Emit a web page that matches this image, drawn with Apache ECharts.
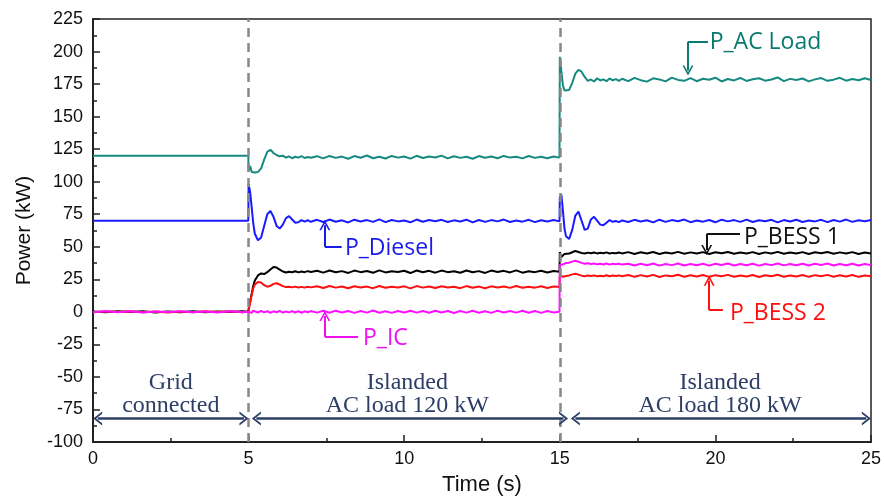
<!DOCTYPE html>
<html>
<head>
<meta charset="utf-8">
<script src="https://cdn.jsdelivr.net/npm/echarts@6/dist/echarts.min.js"></script>
<style>html,body{margin:0;padding:0;background:#fff}#c{width:884px;height:497px}</style>
</head>
<body>
<div id="c"></div>
<script>
// ---- data (time in s, power in kW) ----
const time = [
  0,0.4,0.8,1.2,1.6,2,2.4,2.8,3.2,3.6,4,4.4,4.8,
  4.99,
  5,5.05,5.1,5.15,
  5.2,5.3,5.4,5.5,5.6,5.7,5.8,5.9,6,6.1,6.2,6.3,6.4,6.5,6.6,6.7,6.8,6.9,7,
  7.2,7.4,7.6,7.8,8,8.2,8.4,8.6,8.8,9,9.2,9.4,9.6,9.8,10,10.2,10.4,10.6,10.8,11,11.2,11.4,11.6,11.8,12,12.2,12.4,12.6,12.8,13,13.2,13.4,13.6,13.8,14,14.2,14.4,14.6,14.8,
  14.99,
  15,15.05,15.1,15.15,
  15.2,15.3,15.4,15.5,15.6,15.7,15.8,15.9,16,16.1,16.2,16.3,16.4,16.5,16.6,16.7,16.8,16.9,17,
  17.2,17.4,17.6,17.8,18,18.2,18.4,18.6,18.8,19,19.2,19.4,19.6,19.8,20,20.2,20.4,20.6,20.8,21,21.2,21.4,21.6,21.8,22,22.2,22.4,22.6,22.8,23,23.2,23.4,23.6,23.8,24,24.2,24.4,24.6,24.8,25
];
const pAcLoad = [
  120,120,120,120,120,120,120,120,120,120,120,120,120,
  120,
  108,112,107.5,107,
  107,107.5,110,117,123,124.5,122,120.5,119.5,120,118.5,119.5,118,119.2,118.5,119.6,118.2,119,118.4,
  119.6,117.9,119.8,118.3,119.3,117.6,119.7,118.4,120.1,118.0,119.2,117.8,119.8,118.5,119.4,117.7,119.9,118.2,119.3,118.6,120.0,117.9,119.5,118.3,119.2,117.6,119.7,118.4,119.3,118.0,119.8,118.5,119.1,117.9,119.7,118.3,119.2,118.0,119.4,
  118.5,
  196,185,174,170,
  169,170.5,176,183,186,184.5,180.5,177.5,178.5,177,179.5,177.8,178.6,177.2,179.3,177.9,178.8,177.4,179.1,
  177.3,179.8,178.0,176.9,179.4,178.6,177.1,180.0,178.2,177.5,179.6,177.2,179.1,178.3,179.9,177.0,178.9,177.8,179.7,177.4,178.7,179.5,177.6,178.5,180.1,177.3,179.0,178.1,179.3,177.1,178.6,179.6,177.5,178.4,179.8,177.6,178.9,177.9,179.5,178.2
];
const pDiesel = [
  70,70,70,70,70,70,70,70,70,70,70,70,70,
  70,
  98,92,80,68,
  60,55,57,66,75,77.5,73,66,64,67,72,73.5,71,68.5,68.8,70.5,69.3,70.4,69.2,
  70.7,69.0,70.9,69.2,70.3,68.7,70.8,69.4,70.5,69.1,71.0,68.9,70.6,69.5,70.2,68.8,70.9,69.2,70.5,69.6,70.7,69.0,70.3,69.4,70.8,68.7,70.6,69.1,70.5,69.5,70.9,69.0,70.2,69.3,70.7,68.9,70.4,69.4,70.6,
  69.5,
  88,90,78,64,
  58,56,63,74,77,70,63,64,71,73,70,67,66.5,68.5,70.5,69.2,69.8,68.9,70.2,
  69.0,70.7,69.4,70.4,68.7,70.8,69.1,70.5,69.6,70.9,68.9,70.2,69.3,70.6,68.8,70.8,69.5,70.5,69.1,70.9,69.0,70.4,69.6,70.7,68.7,70.5,69.4,70.8,69.0,70.2,69.5,70.7,68.9,70.6,69.3,70.9,69.1,70.4,69.6,70.5
];
const pBess1 = [
  0.3,-0.4,0.5,-0.2,0.4,-0.5,0.2,-0.3,0.5,-0.4,0.3,-0.2,0.4,
  0,
  2,8,14,20,
  24,28,29.5,29,30.5,32.5,34.5,34,32.5,31,30.2,30.8,30.4,31.2,30.3,31.0,30.5,31.3,30.6,
  31.6,30.1,31.8,30.4,31.3,29.9,31.7,30.5,31.4,30.0,31.9,30.3,31.2,30.6,31.6,29.8,31.8,30.4,31.5,30.1,31.7,30.5,31.2,30.0,31.8,30.4,31.3,29.9,31.7,30.6,31.5,30.3,31.9,30.1,31.2,30.5,31.6,30.2,31.4,
  30.8,
  46,42,43,44.5,
  45,44.8,45.8,46.8,46,45.2,44.8,45.5,45.1,45.6,44.9,45.4,45.0,45.7,44.8,45.3,45.0,45.6,44.9,
  45.9,44.5,45.8,44.8,46.0,44.4,45.6,44.9,46.1,44.6,45.7,44.8,45.9,44.5,45.8,45.0,46.0,44.6,45.6,44.8,45.9,44.4,45.7,44.9,46.1,44.6,45.6,44.8,45.9,44.5,45.8,45.0,46.0,44.6,45.7,44.8,45.9,44.5,45.6,44.9
];
const pBess2 = [
  -0.3,0.4,-0.2,0.5,-0.4,0.3,-0.5,0.2,-0.3,0.4,-0.2,0.5,-0.3,
  0,
  1,7,13,18,
  21,23,22.5,20.5,19.3,20,21.5,22,21,19.8,19,19.3,18.8,19.4,18.7,19.2,18.6,19.3,18.8,
  19.6,18.3,19.8,18.6,19.5,18.1,19.7,18.7,19.4,18.2,19.9,18.5,19.3,18.7,19.6,18.0,19.8,18.6,19.5,18.3,19.7,18.7,19.3,18.2,19.8,18.5,19.4,18.1,19.6,18.7,19.5,18.4,19.9,18.5,19.3,18.6,19.6,18.3,19.4,
  19.0,
  28,27.5,27,27.3,
  27.6,28,28.8,29.2,28.6,27.8,27.4,27.9,27.5,28.0,27.3,27.8,27.4,28.1,27.3,27.9,27.5,28.0,27.4,
  28.3,26.9,28.2,27.1,28.4,26.8,28.0,27.3,28.5,27.0,28.1,27.2,28.3,26.9,28.2,27.4,28.4,27.0,28.0,27.2,28.3,26.8,28.1,27.3,28.5,27.0,28.0,27.2,28.3,26.9,28.2,27.4,28.4,27.0,28.1,27.2,28.3,26.9,28.0,27.3
];
const pIC = [
  -0.4,0.5,-0.3,0.4,-0.5,0.3,-0.2,0.5,-0.4,0.3,-0.5,0.4,-0.3,
  0,
  -1,1.5,-0.8,0.9,
  0.6,-0.5,0.8,-0.4,0.5,-0.7,0.4,-0.3,0.7,-0.6,0.3,-0.4,0.6,-0.5,0.5,-0.7,0.4,-0.3,0.6,
  -0.6,0.8,-0.7,0.9,-0.5,0.7,-0.8,0.6,-0.6,1.0,-0.7,0.5,-0.8,0.7,-0.5,0.9,-0.6,0.6,-0.7,0.8,-0.5,0.7,-0.9,0.6,-0.6,0.8,-0.7,0.5,-0.8,0.9,-0.5,0.7,-0.6,0.8,-0.7,0.6,-0.8,0.7,-0.5,
  0,
  36,37,36.5,37.2,
  37.5,37.8,38.6,39.2,38.5,37.6,36.9,37.3,36.7,37.2,36.5,37.0,36.4,37.1,36.3,36.9,36.5,37.0,36.3,
  37.0,35.6,36.9,35.8,37.1,35.5,36.7,35.9,37.2,35.6,36.8,35.8,37.0,35.5,36.9,36.0,37.1,35.6,36.7,35.8,37.0,35.5,36.8,35.9,37.2,35.7,36.7,35.8,37.0,35.6,36.9,36.0,37.1,35.6,36.8,35.8,37.0,35.6,36.7,35.9
];
const modeSwitchTimes = [5, 15];
const modeLabels = ['Grid\nconnected', 'Islanded\nAC load 120 kW', 'Islanded\nAC load 180 kW'];
const xTicks = [0, 5, 10, 15, 20, 25];
const yTicks = [-100, -75, -50, -25, 0, 25, 50, 75, 100, 125, 150, 175, 200, 225];

// ---- build ----
const zip = v => time.map((t, i) => [t, v[i]]);
const chev = 'path://M0,10 L5,0 L10,10 L8.4,10 L5,3.2 L1.6,10 Z';
const NAVY = '#2d3e66';
const annFont = '"Open Sans", "Noto Sans", sans-serif';

function callout(color, tip, corner, end, text, textPos) {
  return {
    markLine: {
      silent: true, animation: false,
      label: { show: false },
      lineStyle: { color: color, width: 2, type: 'solid' },
      emphasis: { disabled: true },
      data: [
        [{ coord: corner, symbol: 'none' }, { coord: tip, symbol: chev, symbolSize: [11, 10] }],
        [{ coord: corner, symbol: 'none' }, { coord: end, symbol: 'none' }]
      ]
    },
    markPoint: {
      silent: true, animation: false,
      data: [{
        coord: textPos, symbol: 'rect', symbolSize: 1, itemStyle: { color: 'rgba(0,0,0,0)' },
        label: { show: true, position: 'right', distance: 0, formatter: text, color: color, fontSize: 23, fontFamily: annFont }
      }]
    }
  };
}

function lineSeries(name, vals, color, extra) {
  return Object.assign({
    name: name, type: 'line', data: zip(vals), showSymbol: false, symbol: 'none',
    lineStyle: { color: color, width: 2 }, itemStyle: { color: color },
    silent: true, animation: false, z: 3
  }, extra || {});
}

const chart = echarts.init(document.getElementById('c'), null, { renderer: 'canvas' });
const option = {
  backgroundColor: '#fff',
  animation: false,
  grid: { left: 93, right: 13, top: 19, bottom: 55, containLabel: false, outerBoundsMode: 'none', show: true, borderColor: '#222', borderWidth: 1.5, backgroundColor: 'transparent' },
  xAxis: {
    type: 'value', min: xTicks[0], max: xTicks[xTicks.length - 1], interval: 5,
    name: 'Time (s)', nameLocation: 'middle', nameGap: 32,
    nameTextStyle: { fontSize: 22, color: '#111', fontFamily: '"Liberation Sans", Arial, sans-serif' },
    axisLine: { show: true, onZero: false, lineStyle: { color: '#222', width: 2 } },
    axisTick: { show: true, inside: true, length: 7, lineStyle: { color: '#222', width: 1.5 } },
    minorTick: { show: true, splitNumber: 2, length: 4, lineStyle: { color: '#222', width: 1.5 } },
    splitLine: { show: false },
    axisLabel: { fontSize: 18, color: '#111', margin: 8, fontFamily: '"Liberation Sans", Arial, sans-serif' }
  },
  yAxis: {
    type: 'value', min: yTicks[0], max: yTicks[yTicks.length - 1], interval: 25,
    name: 'Power (kW)', nameLocation: 'middle', nameGap: 58,
    nameTextStyle: { fontSize: 21, color: '#111', fontFamily: '"Liberation Sans", Arial, sans-serif' },
    axisLine: { show: true, onZero: false, lineStyle: { color: '#222', width: 2 } },
    axisTick: { show: true, inside: true, length: 7, lineStyle: { color: '#222', width: 1.5 } },
    minorTick: { show: true, splitNumber: 2, length: 4, lineStyle: { color: '#222', width: 1.5 } },
    splitLine: { show: false },
    axisLabel: { fontSize: 18, color: '#111', margin: 10, fontFamily: '"Liberation Sans", Arial, sans-serif' }
  },
  series: [
    {
      name: 'modes', type: 'line', data: [], silent: true, animation: false, z: 2,
      markLine: {
        silent: true, animation: false, symbol: 'none', label: { show: false },
        lineStyle: { color: '#888', width: 2.5, type: [9, 6] },
        data: modeSwitchTimes.map(t => ({ xAxis: t }))
      }
    },
    {
      name: 'spans', type: 'line', data: [], silent: true, animation: false, z: 4,
      markLine: {
        silent: true, animation: false, label: { show: false },
        symbol: [chev, chev], symbolSize: [14, 9],
        lineStyle: { color: NAVY, width: 2.5, type: 'solid' },
        data: [
          [{ coord: [0.15, -82] }, { coord: [4.85, -82] }],
          [{ coord: [5.25, -82] }, { coord: [15.12, -82] }],
          [{ coord: [15.5, -82] }, { coord: [24.85, -82] }]
        ]
      },
      markPoint: {
        silent: true, animation: false,
        data: [[2.5, -63], [10.1, -63], [20.15, -63]].map((c, i) => ({
          coord: c, symbol: 'rect', symbolSize: 1, itemStyle: { color: 'rgba(0,0,0,0)' },
          label: { show: true, position: 'inside', formatter: modeLabels[i], color: NAVY, fontSize: 24, lineHeight: 23, align: 'center', verticalAlign: 'middle', fontFamily: '"Liberation Serif", "Times New Roman", serif' }
        }))
      }
    },
    lineSeries('P_AC Load', pAcLoad, '#168a80', callout('#0a7a70', [19.12, 185.5], [19.12, 207.6], [19.76, 207.6], 'P_AC Load', [19.8, 207.2])),
    lineSeries('P_Diesel', pDiesel, '#1a1aff', callout('#1a1aee', [7.45, 66.5], [7.45, 50.1], [7.99, 50.1], 'P_Diesel', [8.08, 48.6])),
    lineSeries('P_BESS 1', pBess1, '#000000', callout('#111111', [19.72, 47.5], [19.72, 59.8], [20.79, 59.8], 'P_BESS 1', [20.9, 56.8])),
    lineSeries('P_BESS 2', pBess2, '#ff1010', callout('#ff1010', [19.8, 23.8], [19.8, 1.4], [20.24, 1.4], 'P_BESS 2', [20.45, -1.5])),
    lineSeries('P_IC', pIC, '#ff10ff', callout('#ee10ee', [7.45, -3.2], [7.45, -19.1], [8.52, -19.1], 'P_IC', [8.66, -20.3]))
  ]
};
const lens = [pAcLoad, pDiesel, pBess1, pBess2, pIC].map(a => a.length);
if (lens.some(l => l !== time.length)) option.title = { text: 'LEN MISMATCH ' + time.length + ' ' + lens.join(','), top: 60, left: 300 };
chart.setOption(option);
</script>
</body>
</html>
